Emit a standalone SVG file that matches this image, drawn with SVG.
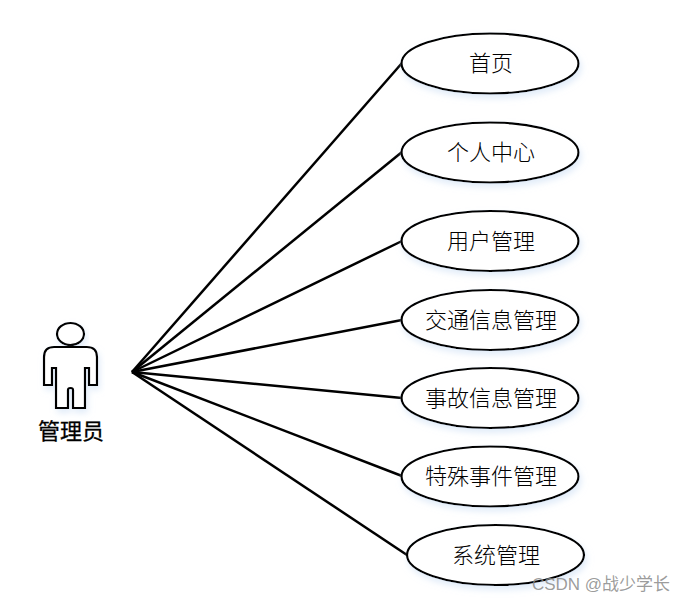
<svg xmlns="http://www.w3.org/2000/svg" width="685" height="602" viewBox="0 0 685 602">
<style>
.uc{fill:#fff;stroke:#000;stroke-width:2.200;filter:url(#sh)}
.t{font-family:"Noto Sans CJK SC","Liberation Serif",sans-serif;font-size:22px;font-weight:300;fill:#000;text-anchor:middle}
.c line{stroke:#000;stroke-width:2.500;fill:none}
.a{fill:#fff;stroke:#000;stroke-width:2.200;filter:url(#sh)}
</style>
<defs><filter id="sh" x="-15%" y="-25%" width="130%" height="160%"><feDropShadow dx="2" dy="4" stdDeviation="3" flood-color="#cfe0f5" flood-opacity="0.6"/></filter></defs>
<rect width="685" height="602" fill="#fff"/>
<g id="connectors" class="c">
<line x1="132" y1="372" x2="402" y2="63"/>
<line x1="132" y1="372" x2="402" y2="152"/>
<line x1="132" y1="372" x2="402" y2="241"/>
<line x1="132" y1="372" x2="402" y2="320"/>
<line x1="132" y1="372" x2="402" y2="398"/>
<line x1="132" y1="372" x2="402" y2="476"/>
<line x1="132" y1="372" x2="407" y2="555"/>
</g>
<g id="actor">
<ellipse class="a" cx="70.500" cy="334" rx="13.500" ry="11"/>
<path class="a" d="M54 347H87Q97 347 97 357V385H89V368H85V408H73V390Q73 388 70.500 388Q68 388 68 390V408H56V368H52V385H44V357Q44 347 54 347Z"/>
<text class="t" x="71" y="439" style="font-size:22px;font-weight:400;stroke:#000;stroke-width:.3">管理员</text>
</g>
<g id="n1"><ellipse class="uc" cx="490" cy="63.500" rx="88.500" ry="30"/><text class="t" x="491" y="71">首页</text></g>
<g id="n2"><ellipse class="uc" cx="490" cy="152.500" rx="88.500" ry="30"/><text class="t" x="491" y="160">个人中心</text></g>
<g id="n3"><ellipse class="uc" cx="490" cy="241" rx="88.500" ry="30"/><text class="t" x="491" y="249">用户管理</text></g>
<g id="n4"><ellipse class="uc" cx="490" cy="320" rx="88.500" ry="30"/><text class="t" x="491" y="328">交通信息管理</text></g>
<g id="n5"><ellipse class="uc" cx="490" cy="398" rx="88.500" ry="30"/><text class="t" x="491" y="406">事故信息管理</text></g>
<g id="n6"><ellipse class="uc" cx="490" cy="476.500" rx="88.500" ry="30"/><text class="t" x="491" y="484">特殊事件管理</text></g>
<g id="n7"><ellipse class="uc" cx="495.500" cy="555" rx="88.500" ry="30"/><text class="t" x="496" y="563">系统管理</text></g>
<text x="601" y="590" style="font-family:'Liberation Sans','Noto Sans CJK SC',sans-serif;font-size:17px;text-anchor:middle;fill:#8a8a8a;fill-opacity:.85">CSDN @战少学长</text>
</svg>
